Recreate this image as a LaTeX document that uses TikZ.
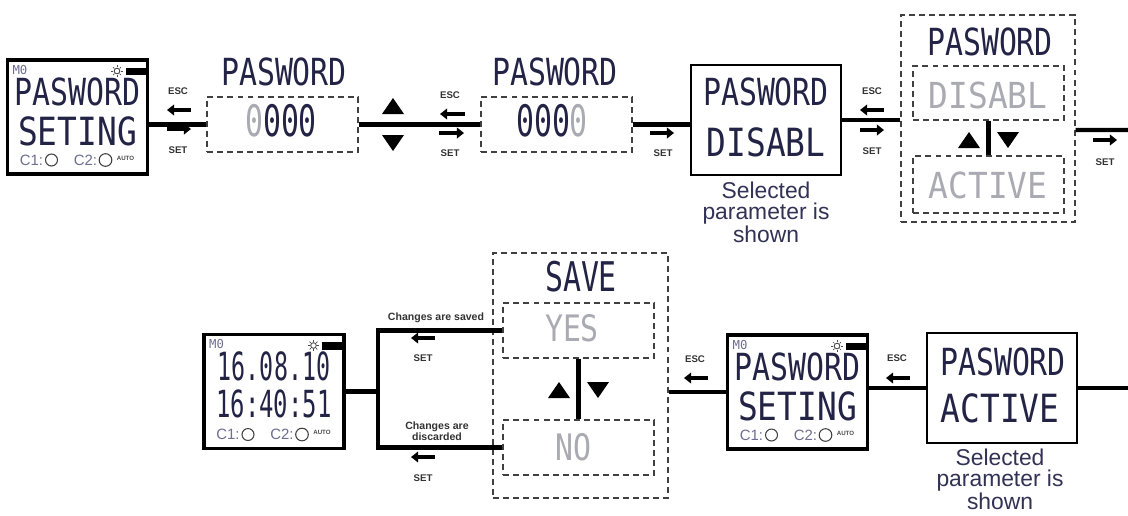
\documentclass[tikz,border=0pt]{standalone}
\usepackage{fontspec}
\usepackage{graphicx}
\setsansfont{Liberation Sans}
\newfontfamily\lcdfont{DejaVu Sans Mono}
\usetikzlibrary{calc,arrows.meta}
\definecolor{lcdink}{RGB}{35,35,70}
\definecolor{lcdgray}{RGB}{170,170,178}
\definecolor{notecol}{RGB}{50,50,85}
\definecolor{smallgray}{RGB}{110,110,145}
\tikzset{
  conn/.style={line width=2.4pt},
  devframe/.style={draw, line width=1.8pt, minimum width=2.8cm, minimum height=2.28cm, inner sep=0pt},
  plainframe/.style={draw, line width=0.9pt, minimum width=3cm, minimum height=2.2cm, inner sep=0pt},
  dashbox/.style={draw=black!75, line width=0.8pt, dash pattern=on 3.4pt off 2.3pt, inner sep=0pt},
  lcd/.style={font=\lcdfont\fontsize{17}{17}\selectfont, text=lcdink, inner sep=0pt},
  lcdoff/.style={lcd, text=lcdgray},
  keylbl/.style={font=\sffamily\bfseries\fontsize{5.5}{6}\selectfont, text=black!80, inner sep=0pt},
  chglbl/.style={font=\sffamily\bfseries\fontsize{6}{6.5}\selectfont, text=black!80, inner sep=0pt, align=center},
  keyarr/.style={line width=1.9pt, -{Triangle[length=4pt,width=6pt]}},
  note/.style={font=\sffamily\fontsize{13}{12}\selectfont, text=notecol, align=center, inner sep=0pt},
  cnote/.style={font=\sffamily\fontsize{8.5}{9}\selectfont, text=smallgray, inner sep=0pt},
  autolbl/.style={font=\sffamily\bfseries\fontsize{3.5}{4}\selectfont, text=black!70, inner sep=0pt},
  mzero/.style={font=\lcdfont\fontsize{7}{7}\selectfont, text=smallgray, inner sep=0pt},
}
\newcommand{\lcd}[3]{\scalebox{#1}[#2]{#3}}
\newcommand{\uptri}[2]{\fill (#1-11,#2+8) -- (#1+11,#2+8) -- (#1,#2-8) -- cycle;}
\newcommand{\dntri}[2]{\fill (#1-11,#2-8) -- (#1+11,#2-8) -- (#1,#2+8) -- cycle;}
% #1 name, #2 x, #3 y, #4 line 1, #5 line 2, #6 offset line 1, #7 offset line 2
\newcommand{\devicebox}[7]{%
  \node[devframe] (#1) at (#2,#3) {};
  \node[mzero] (#1-m) at ($(#1.center)+(-57.5,-47)$) {M0};
  \draw[line width=0.5pt, black!70] ($(#1.center)+(39.5,-46)$) circle[radius=1.6pt];
  \foreach \ang in {0,45,...,315}
    \draw[line width=0.4pt, black!70] ($(#1.center)+(39.5,-46)$) ++(\ang:2.1pt) -- ++(\ang:1.1pt);
  \fill ($(#1.center)+(48,-49.5)$) rectangle ($(#1.center)+(69,-42)$);
  \node[lcd] (#1-a) at ($(#1.center)+(0,#6)$) {#4};
  \node[lcd] (#1-b) at ($(#1.center)+(0,#7)$) {#5};
  \node[cnote] (#1-c1) at ($(#1.center)+(-46,43)$) {C1:};
  \draw[line width=0.6pt, black!75] ($(#1.center)+(-26,43)$) circle[radius=3.4pt];
  \node[cnote] (#1-c2) at ($(#1.center)+(8,43)$) {C2:};
  \draw[line width=0.6pt, black!75] ($(#1.center)+(28,43)$) circle[radius=3.6pt];
  \node[autolbl] (#1-auto) at ($(#1.center)+(48,41)$) {AUTO};
}
\begin{document}
\begin{tikzpicture}[x=0.02cm, y=-0.02cm]
\useasboundingbox[fill=white] (0,0) rectangle (1128,515);

% ---------------- top row ----------------
\devicebox{dA}{77.5}{117}{\lcd{1}{1.25}{PASWORD}}{\lcd{1.1}{1.3}{SETING}}{-25}{14}

\node[keylbl] (escA) at (178,91) {ESC};
\draw[keyarr] (191,110) -- (167,110);
\draw[keyarr] (167,129) -- (191,129);
\node[keylbl] (setA) at (178,150) {SET};

\node[dashbox, minimum width=3.02cm, minimum height=1.1cm] (pw1) at (282.5,124.5) {};
\node[lcd] (pw1t) at (284,72) {\lcd{1}{1.25}{PASWORD}};
\node[lcd] (pw1d) at (281,121) {\lcd{1}{1.45}{\textcolor{lcdgray}{0}000}};

\uptri{393}{106}
\dntri{393}{143}

\node[keylbl] (escB) at (450,95) {ESC};
\draw[keyarr] (465,114) -- (440,114);
\draw[keyarr] (439,133) -- (464,133);
\node[keylbl] (setB) at (450,153) {SET};

\node[dashbox, minimum width=3.02cm, minimum height=1.1cm] (pw2) at (556.5,124.5) {};
\node[lcd] (pw2t) at (555,72) {\lcd{1}{1.25}{PASWORD}};
\node[lcd] (pw2d) at (552,121) {\lcd{1}{1.45}{000\textcolor{lcdgray}{0}}};

\draw[keyarr] (650,133) -- (674,133);
\node[keylbl] (setC) at (663,153) {SET};

\node[plainframe] (dis) at (766,120) {};
\node[lcd] (disa) at (766,92) {\lcd{1}{1.25}{PASWORD}};
\node[lcd] (disb) at (766,142) {\lcd{1.1}{1.3}{DISABL}};
\node[note] (noteA) at (766,212) {Selected\\parameter is\\shown};

\node[keylbl] (escD) at (872,91) {ESC};
\draw[keyarr] (884,110) -- (860,110);
\draw[keyarr] (860,130) -- (884,130);
\node[keylbl] (setD) at (872,151) {SET};

\node[dashbox, minimum width=3.48cm, minimum height=4.14cm] (sel) at (988,118.5) {};
\node[lcd] (selt) at (990,42) {\lcd{1}{1.25}{PASWORD}};
\node[dashbox, minimum width=3.02cm, minimum height=1.08cm] (selD) at (988.5,93) {};
\node[lcdoff] (selDt) at (988,95) {\lcd{1.1}{1.2}{DISABL}};
\node[dashbox, minimum width=3.02cm, minimum height=1.14cm] (selA) at (988.5,184.5) {};
\node[lcdoff] (selAt) at (988,185) {\lcd{1.1}{1.2}{ACTIVE}};
\uptri{969}{140}
\dntri{1008}{140}

\draw[keyarr] (1093,140) -- (1117,140);
\node[keylbl] (setE) at (1105,162) {SET};

\coordinate (endT) at (1128,130);

\draw[conn] (pw1.west -| dA.east) -- (pw1.west);
\draw[conn] (pw1.east) -- (pw2.west);
\draw[conn] (pw2.east) -- (pw2.east -| dis.west);
\draw[conn] (dis.east) -- (dis.east -| sel.west);
\draw[conn] ([yshift=-6.5pt]sel.east) -- (endT);
\draw[line width=2.6pt] (selD.south) -- (selA.north);

% ---------------- bottom row ----------------
\devicebox{dB}{274}{391.5}{\lcd{0.78}{1.3}{16.08.10}}{\lcd{0.8}{1.25}{16:40:51}}{-25}{12}
\coordinate (br) at (378,390);

\node[chglbl] (saved) at (436,318) {Changes are saved};
\draw[keyarr] (435,338) -- (411,338);
\node[keylbl] (setF) at (423,358) {SET};
\node[chglbl] (disc) at (437,431) {Changes are\\discarded};
\draw[keyarr] (435,457) -- (411,457);
\node[keylbl] (setG) at (423,478) {SET};

\node[dashbox, minimum width=3.5cm, minimum height=4.9cm] (save) at (580.5,375.5) {};
\node[lcd] (savet) at (581,277) {\lcd{1}{1.37}{SAVE}};
\node[dashbox, minimum width=3.02cm, minimum height=1.1cm] (yes) at (578.5,330.5) {};
\node[lcdoff] (yest) at (572,328) {\lcd{1}{1.22}{YES}};
\node[dashbox, minimum width=3.02cm, minimum height=1.1cm] (no) at (578.5,447.5) {};
\node[lcdoff] (not) at (573,447) {\lcd{1}{1.22}{NO}};
\draw[line width=3pt] (yes.south) -- (no.north);
\uptri{559}{390}
\dntri{598}{390}

\node[keylbl] (escH) at (695,359) {ESC};
\draw[keyarr] (708,378) -- (684,378);

\devicebox{dC}{797.5}{392}{\lcd{1}{1.25}{PASWORD}}{\lcd{1.1}{1.3}{SETING}}{-25}{14}

\node[keylbl] (escI) at (897,358) {ESC};
\draw[keyarr] (910,378) -- (886,378);

\node[plainframe] (act) at (1002,388) {};
\node[lcd] (acta) at (1003,362) {\lcd{1}{1.25}{PASWORD}};
\node[lcd] (actb) at (1000,408) {\lcd{1.1}{1.3}{ACTIVE}};
\node[note] (noteB) at (1000,479) {Selected\\parameter is\\shown};

\coordinate (endB) at (1128,388);

\draw[conn] (dB.east) -- (dB.east -| br);
\draw[conn, line join=miter] (yes.west) -| (br) |- (no.west);
\draw[conn] (dC.west) -- (dC.west -| save.east);
\draw[conn] (act.west) -- (act.west -| dC.east);
\draw[conn] (act.east) -- (endB);
\end{tikzpicture}
\end{document}
